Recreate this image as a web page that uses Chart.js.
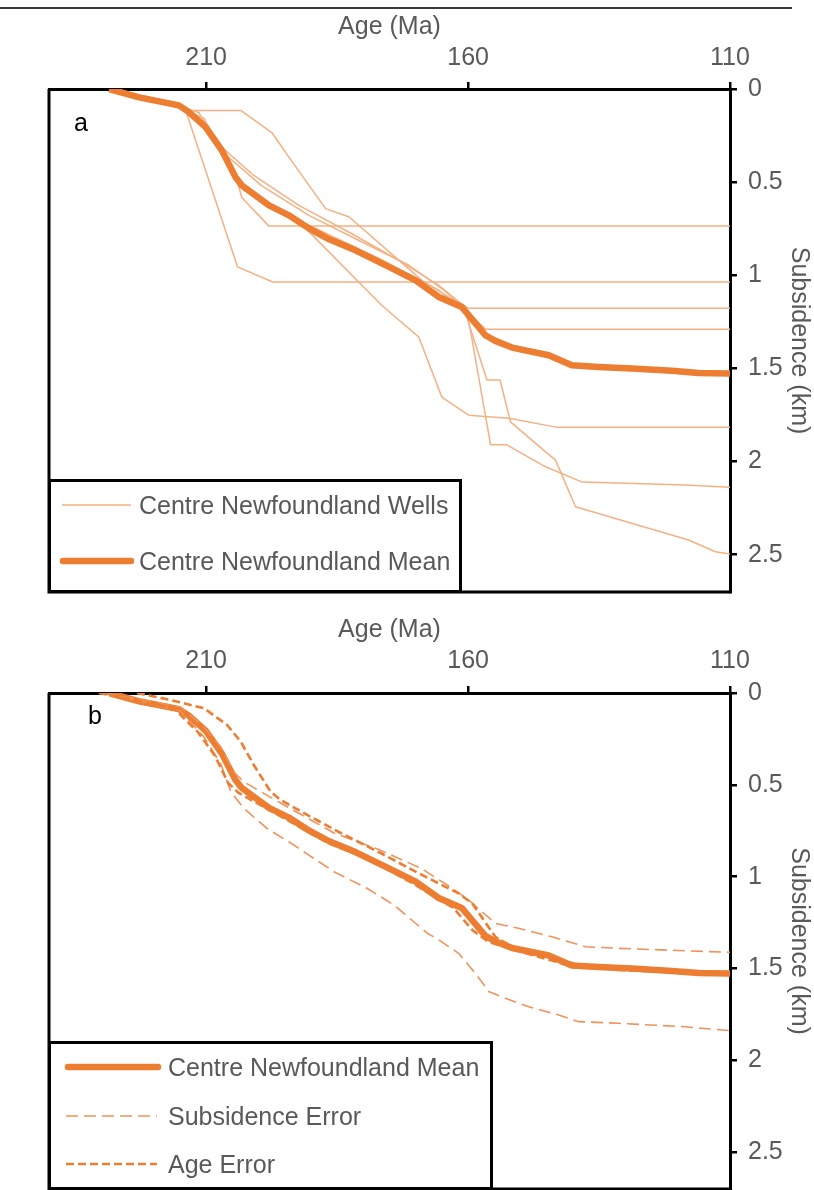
<!DOCTYPE html>
<html>
<head>
<meta charset="utf-8">
<script src="https://cdn.jsdelivr.net/npm/chart.js@4.4.0/dist/chart.umd.min.js"></script>
<style>
  body { margin: 0; background: #fff; width: 814px; height: 1190px; position: relative; overflow: hidden;
         font-family: "Liberation Sans", Arial, sans-serif; }
  .abs { position: absolute; }
  canvas { position: absolute; left: 0; }
  .topline { left: 0; top: 7px; width: 792px; height: 2px; background: #3a3a3a; }
  .tag { font-size: 25px; line-height: 25px; color: #000; }
  .legend-box { border: 3px solid #000; background: #fff; box-sizing: border-box; }
  .legend-text { font-size: 25px; line-height: 30px; color: #595959; white-space: nowrap; }
</style>
</head>
<body>
<div class="abs topline"></div>

<canvas id="chartA" width="814" height="600" style="top:0"></canvas>
<canvas id="chartB" width="814" height="590" style="top:600px"></canvas>

<div class="abs tag" style="left:74px;top:110px">a</div>
<div class="abs tag" style="left:88px;top:703px">b</div>

<div class="abs legend-box" style="left:48px;top:479px;width:414px;height:114px"></div>
<div class="abs legend-box" style="left:48px;top:1041px;width:445px;height:149px"></div>

<svg class="abs" style="left:0;top:0" width="814" height="1190">
  <line x1="62" y1="505" x2="131" y2="505" stroke="#F4B183" stroke-width="1.5"/>
  <line x1="63" y1="561" x2="131" y2="561" stroke="#ED7D31" stroke-width="6.5" stroke-linecap="round"/>
  <line x1="68" y1="1067" x2="158" y2="1067" stroke="#ED7D31" stroke-width="6.5" stroke-linecap="round"/>
  <line x1="66" y1="1116" x2="157" y2="1116" stroke="#F0925A" stroke-width="1.6" stroke-dasharray="12 6"/>
  <line x1="66" y1="1164" x2="157" y2="1164" stroke="#ED7D31" stroke-width="2.6" stroke-dasharray="8 4"/>
</svg>

<div class="abs legend-text" style="left:139px;top:490px">Centre Newfoundland Wells</div>
<div class="abs legend-text" style="left:139px;top:546px">Centre Newfoundland Mean</div>
<div class="abs legend-text" style="left:168px;top:1052px">Centre Newfoundland Mean</div>
<div class="abs legend-text" style="left:168px;top:1101px">Subsidence Error</div>
<div class="abs legend-text" style="left:168px;top:1149px">Age Error</div>

<script>
// axis ticks
const ageTicks = [210, 160, 110];
const depthTicks = [0, 0.5, 1, 1.5, 2, 2.5];

// mean subsidence curve (Ma, km)
const meanAge   = [228.5, 222.8, 215.2, 213.3, 210.1, 207.0, 204.4, 203.2, 198.0, 194.2, 190.4, 186.5, 181.5, 175.1, 170.0, 165.6, 161.2, 159.9, 156.7, 154.8, 151.6, 144.6, 140.2, 135.1, 128.7, 121.1, 116.0, 110.0];
const meanDepth = [0.00, 0.045, 0.088, 0.124, 0.205, 0.330, 0.473, 0.517, 0.625, 0.678, 0.748, 0.807, 0.866, 0.955, 1.027, 1.116, 1.170, 1.214, 1.322, 1.352, 1.388, 1.429, 1.483, 1.492, 1.500, 1.513, 1.524, 1.527];

// individual wells
const w1Age   = [228.4, 214.3, 210.1, 206.6, 204.1, 203.2, 198.0, 110.0];
const w1Depth = [0.00, 0.094, 0.196, 0.357, 0.491, 0.582, 0.736, 0.736];
const w2Age   = [228.4, 220.9, 213.9, 204.0, 197.3, 110.0];
const w2Depth = [0.00, 0.046, 0.115, 0.955, 1.036, 1.036];
const w3Age   = [228.4, 220.9, 213.3, 203.4, 197.4, 194.2, 187.2, 182.7, 168.8, 161.2, 159.9, 155.7, 152.6, 145.2, 138.2, 118.5, 110.0];
const w3Depth = [0.00, 0.047, 0.115, 0.115, 0.236, 0.366, 0.642, 0.687, 1.027, 1.161, 1.241, 1.910, 1.910, 2.028, 2.110, 2.126, 2.138];
const w4Age   = [228.4, 219.0, 211.4, 208.5, 200.9, 192.3, 182.7, 173.2, 165.6, 161.4, 159.9, 110.0];
const w4Depth = [0.00, 0.056, 0.126, 0.276, 0.464, 0.625, 0.769, 0.920, 1.054, 1.150, 1.177, 1.177];
const w5Age   = [228.4, 218.0, 210.4, 207.2, 199.5, 190.4, 180.9, 171.3, 164.6, 160.8, 156.7, 110.0];
const w5Depth = [0.00, 0.062, 0.158, 0.330, 0.517, 0.678, 0.812, 0.946, 1.080, 1.177, 1.289, 1.289];
const w6Age   = [228.4, 214.3, 210.1, 206.6, 203.8, 198.0, 191.0, 176.5, 169.4, 165.0, 159.9, 152.2, 143.2, 110.0];
const w6Depth = [0.00, 0.094, 0.196, 0.357, 0.517, 0.625, 0.748, 1.161, 1.332, 1.654, 1.751, 1.767, 1.815, 1.815];
const w7Age   = [228.4, 215.2, 209.5, 206.0, 202.8, 192.3, 177.0, 165.6, 160.5, 156.4, 153.9, 151.9, 145.2, 143.3, 139.5, 117.9, 112.8, 110.0];
const w7Depth = [0.00, 0.083, 0.212, 0.383, 0.544, 0.705, 0.909, 1.080, 1.204, 1.562, 1.562, 1.787, 1.948, 1.992, 2.242, 2.421, 2.484, 2.496];

// error envelopes (panel b)
const subUpAge    = [229.5, 214.9, 210.4, 207.2, 204.7, 202.8, 195.8, 185.6, 177.3, 169.0, 163.0, 159.9, 154.8, 150.4, 144.0, 137.6, 131.3, 118.5, 110.0];
const subUpDepth  = [0.00, 0.076, 0.185, 0.294, 0.430, 0.484, 0.599, 0.762, 0.849, 0.954, 1.063, 1.127, 1.254, 1.281, 1.327, 1.381, 1.390, 1.403, 1.412];
const subLowAge   = [229.5, 214.9, 210.4, 207.2, 205.3, 202.8, 198.4, 193.3, 185.6, 179.3, 174.2, 167.8, 165.6, 161.8, 158.6, 156.0, 152.9, 148.4, 142.7, 138.9, 131.3, 118.5, 110.0];
const subLowDepth = [0.00, 0.098, 0.240, 0.387, 0.537, 0.628, 0.737, 0.827, 0.973, 1.063, 1.153, 1.307, 1.344, 1.417, 1.526, 1.626, 1.662, 1.708, 1.753, 1.789, 1.798, 1.817, 1.838];
const ageYoungAge   = [223.2, 216.8, 210.4, 206.0, 203.4, 200.9, 197.7, 195.8, 190.7, 184.3, 176.7, 169.4, 161.8, 159.2, 154.8, 151.6, 144.0, 138.9, 131.3, 118.5, 110.0];
const ageYoungDepth = [0.00, 0.038, 0.083, 0.174, 0.265, 0.392, 0.537, 0.582, 0.664, 0.762, 0.871, 0.982, 1.091, 1.146, 1.327, 1.382, 1.437, 1.481, 1.508, 1.523, 1.535];
const ageOldAge   = [230.5, 216.2, 211.6, 208.3, 205.8, 203.8, 196.9, 186.8, 178.6, 170.4, 162.8, 159.2, 156.1, 150.3, 140.9, 131.3, 118.5, 110.0];
const ageOldDepth = [0.00, 0.082, 0.212, 0.343, 0.490, 0.544, 0.653, 0.816, 0.909, 1.039, 1.170, 1.290, 1.355, 1.405, 1.482, 1.500, 1.516, 1.528];

const ORANGE = "#ED7D31";
const GREY = "#595959";
const FONT = "'Liberation Sans', Arial, sans-serif";

Chart.defaults.font.family = FONT;
Chart.defaults.font.size = 25;
Chart.defaults.color = GREY;

const pts = (ages, depths) => ages.map((a, i) => ({ x: a, y: depths[i] }));

const meanSet = () => ({ data: pts(meanAge, meanDepth), borderColor: ORANGE, borderWidth: 6.5 });
const wellSet = (a, d) => ({ data: pts(a, d), borderColor: "#F4B183", borderWidth: 1.5 });
const subSet  = (a, d) => ({ data: pts(a, d), borderColor: "#F0925A", borderWidth: 1.6, borderDash: [12, 6] });
const ageSet  = (a, d) => ({ data: pts(a, d), borderColor: ORANGE, borderWidth: 2.6, borderDash: [8, 4] });

// left and bottom edges of the plot frame
const framePlugin = {
  id: "frame",
  afterDatasetsDraw(chart) {
    const { ctx, chartArea: { left, right, top, bottom } } = chart;
    ctx.save();
    ctx.strokeStyle = "#000";
    ctx.lineWidth = 3;
    ctx.beginPath();
    ctx.moveTo(left, top);
    ctx.lineTo(left, bottom);
    ctx.lineTo(right, bottom);
    ctx.stroke();
    ctx.restore();
  }
};

function makeChart(id, datasets, axisH, titlePad, tickPad, padBottom) {
  const axisGrid = { drawOnChartArea: false, drawTicks: true, tickLength: 7, lineWidth: 2.5, color: "#000" };
  const axisBorder = { display: true, color: "#000", width: 3 };
  return new Chart(document.getElementById(id), {
    type: "line",
    data: { datasets },
    plugins: [framePlugin],
    options: {
      responsive: false,
      animation: false,
      events: [],
      layout: { padding: { left: 49, right: 0, top: 0, bottom: padBottom } },
      elements: {
        point: { radius: 0 },
        line: { tension: 0, fill: false, borderJoinStyle: "round", borderCapStyle: "butt" }
      },
      plugins: { legend: { display: false }, tooltip: { enabled: false } },
      scales: {
        x: {
          type: "linear", position: "top", min: 110, max: 240, reverse: true,
          afterBuildTicks: s => { s.ticks = ageTicks.map(v => ({ value: v })); },
          afterFit: s => { s.height = axisH; s.paddingLeft = 0; s.paddingRight = 0; },
          ticks: { padding: tickPad, maxRotation: 0, autoSkip: false, callback: v => String(v) },
          grid: axisGrid,
          border: axisBorder,
          title: { display: true, text: "Age (Ma)", padding: { top: titlePad, bottom: 0 } }
        },
        y: {
          type: "linear", position: "right", min: 0, max: 2.7, reverse: true,
          afterBuildTicks: s => { s.ticks = depthTicks.map(v => ({ value: v })); },
          afterFit: s => { s.width = 84; s.paddingTop = 0; s.paddingBottom = 0; },
          ticks: { padding: 11, callback: v => String(v) },
          grid: axisGrid,
          border: axisBorder,
          title: { display: true, text: "Subsidence (km)", padding: { top: 0, bottom: 0 } }
        }
      }
    }
  });
}

// panel a: mean drawn on top of the wells
makeChart("chartA", [
  meanSet(),
  wellSet(w1Age, w1Depth),
  wellSet(w2Age, w2Depth),
  wellSet(w3Age, w3Depth),
  wellSet(w4Age, w4Depth),
  wellSet(w5Age, w5Depth),
  wellSet(w6Age, w6Depth),
  wellSet(w7Age, w7Depth)
], 89, 12, 9, 8);

// panel b: error lines drawn over the mean
makeChart("chartB", [
  ageSet(ageYoungAge, ageYoungDepth),
  ageSet(ageOldAge, ageOldDepth),
  subSet(subUpAge, subUpDepth),
  subSet(subLowAge, subLowDepth),
  meanSet()
], 93, 15, 10, 1);
</script>
</body>
</html>
